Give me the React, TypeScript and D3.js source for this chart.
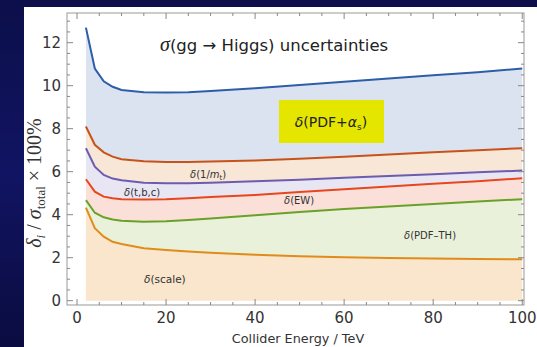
import React from "react";
import { scaleLinear, line, area, curveLinear, range } from "d3";

const energies = [2, 4, 6, 8, 10, 15, 20, 25, 30, 40, 50, 60, 70, 80, 90, 100];

const scaleUnc = [4.33, 3.37, 2.98, 2.74, 2.64, 2.44, 2.36, 2.29, 2.23, 2.14, 2.07, 2.02, 1.99, 1.96, 1.94, 1.93];
const pdfTh = [4.68, 4.09, 3.88, 3.78, 3.72, 3.67, 3.69, 3.75, 3.82, 3.97, 4.12, 4.26, 4.38, 4.5, 4.61, 4.72];
const ew = [5.65, 5.07, 4.84, 4.76, 4.72, 4.71, 4.72, 4.76, 4.82, 4.92, 5.05, 5.18, 5.31, 5.44, 5.56, 5.69];
const tbc = [7.09, 6.23, 5.85, 5.68, 5.6, 5.49, 5.46, 5.46, 5.48, 5.55, 5.63, 5.72, 5.8, 5.88, 5.97, 6.05];
const mt = [8.1, 7.25, 6.9, 6.7, 6.58, 6.48, 6.45, 6.45, 6.47, 6.52, 6.6, 6.7, 6.8, 6.9, 7.0, 7.09];
const pdfAs = [12.7, 10.8, 10.2, 9.95, 9.8, 9.7, 9.68, 9.7, 9.75, 9.88, 10.03, 10.18, 10.33, 10.48, 10.63, 10.8];

const xTicks = [0, 20, 40, 60, 80, 100];
const yTicks = [0, 2, 4, 6, 8, 10, 12];

// bands from bottom to top: [upper series, line colour, fill colour]
const bands: [number[], string, string][] = [
  [scaleUnc, "#e08c1c", "#f9e6cc"],
  [pdfTh, "#6aa128", "#e9f1da"],
  [ew, "#e8461c", "#fbe0d9"],
  [tbc, "#6c5cb0", "#e9e6f3"],
  [mt, "#c8521a", "#f8e6d6"],
  [pdfAs, "#2d5ea8", "#dce3f0"],
];

const W = 537;
const H = 347;
const left = 67, right = 524, top = 13, bottom = 305;

export default function App() {
  const x = scaleLinear().domain([-2.25, 100.4]).range([left, right]);
  const y = scaleLinear().domain([-0.2, 13.38]).range([bottom, top]);

  const lineGen = line<number>()
    .x((_, i) => x(energies[i]))
    .y(d => y(d))
    .curve(curveLinear);

  const areaPath = (lower: number[] | null, upper: number[]) =>
    area<number>()
      .x((_, i) => x(energies[i]))
      .y0((_, i) => y(lower ? lower[i] : 0))
      .y1(d => y(d))
      .curve(curveLinear)(upper);

  const xMinor = range(0, 101, 5);
  const yMinor = range(0, 13.3, 0.5);
  const font = "'DejaVu Sans', sans-serif";

  return (
    <svg width={W} height={H} style={{ position: "absolute", left: 0, top: 0 }}>
      <defs>
        <linearGradient id="bg" x1="0" y1="0" x2="0" y2="1">
          <stop offset="0" stopColor="#0c0f4a" />
          <stop offset="0.5" stopColor="#111462" />
          <stop offset="1" stopColor="#0a0c40" />
        </linearGradient>
      </defs>
      <rect x={0} y={0} width={W} height={H} fill="url(#bg)" />
      <rect x={24} y={7} width={W - 24} height={H - 7} fill="#ffffff" />

      {bands.map(([upper, , fill], i) => (
        <path key={"a" + i} d={areaPath(i === 0 ? null : bands[i - 1][0], upper) || ""} fill={fill} />
      ))}
      {bands.map(([upper, stroke], i) => (
        <path key={"l" + i} d={lineGen(upper) || ""} fill="none" stroke={stroke} strokeWidth={2} />
      ))}

      {/* frame */}
      <rect x={left} y={top} width={right - left} height={bottom - top} fill="none" stroke="#999" strokeWidth={1} />
      {xMinor.map(t => {
        const major = t % 20 === 0;
        const len = major ? 6 : 3;
        return (
          <g key={"xt" + t} stroke="#888">
            <line x1={x(t)} x2={x(t)} y1={bottom} y2={bottom - len} />
            <line x1={x(t)} x2={x(t)} y1={top} y2={top + len} />
          </g>
        );
      })}
      {yMinor.map(t => {
        const major = Math.abs(t % 2) < 1e-6;
        const len = major ? 6 : 3;
        return (
          <g key={"yt" + t} stroke="#888">
            <line x1={left} x2={left + len} y1={y(t)} y2={y(t)} />
            <line x1={right} x2={right - len} y1={y(t)} y2={y(t)} />
          </g>
        );
      })}
      {xTicks.map(t => (
        <text key={"xl" + t} x={x(t)} y={323} textAnchor="middle" fontFamily={font} fontSize={15} fill="#333">
          {t}
        </text>
      ))}
      {yTicks.map(t => (
        <text key={"yl" + t} x={left - 6} y={y(t) + 5.5} textAnchor="end" fontFamily={font} fontSize={15} fill="#333">
          {t}
        </text>
      ))}

      <text x={298} y={343} textAnchor="middle" fontFamily={font} fontSize={12.8} fill="#333">
        Collider Energy / TeV
      </text>
      <text
        transform={`translate(41, 183) rotate(-90)`}
        textAnchor="middle"
        fontFamily="'Liberation Serif', serif"
        fontSize={20}
        fill="#333"
      >
        <tspan fontStyle="italic">δ</tspan>
        <tspan fontStyle="italic" fontSize={13} dy={4}>i</tspan>
        <tspan dy={-4}> / </tspan>
        <tspan fontStyle="italic">σ</tspan>
        <tspan fontSize={13} dy={4}>total</tspan>
        <tspan dy={-4}> × 100%</tspan>
      </text>

      <text x={160} y={51} fontFamily={font} fontSize={16.5} fill="#222">
        <tspan fontStyle="italic" fontFamily="'Liberation Serif', serif" fontSize={20}>σ</tspan>
        (gg → Higgs) uncertainties
      </text>

      <rect x={279} y={100} width={105} height={43} fill="#e5e600" />
      <text x={331} y={127} textAnchor="middle" fontFamily={font} fontSize={14} fill="#222">
        <tspan fontStyle="italic">δ</tspan>(PDF+<tspan fontStyle="italic">α</tspan>
        <tspan fontSize={9} dy={3}>s</tspan>
        <tspan dy={-3}>)</tspan>
      </text>

      <text x={190} y={178} fontFamily={font} fontSize={10} fill="#333">
        <tspan fontStyle="italic">δ</tspan>(1/<tspan fontStyle="italic">m</tspan>
        <tspan fontSize={7} dy={2}>t</tspan>
        <tspan dy={-2}>)</tspan>
      </text>
      <text x={124} y={196} fontFamily={font} fontSize={10} fill="#333">
        <tspan fontStyle="italic">δ</tspan>(t,b,c)
      </text>
      <text x={284} y={204} fontFamily={font} fontSize={10} fill="#333">
        <tspan fontStyle="italic">δ</tspan>(EW)
      </text>
      <text x={404} y={239} fontFamily={font} fontSize={10} fill="#333">
        <tspan fontStyle="italic">δ</tspan>(PDF–TH)
      </text>
      <text x={144} y={283} fontFamily={font} fontSize={10.5} fill="#333">
        <tspan fontStyle="italic">δ</tspan>(scale)
      </text>
    </svg>
  );
}
